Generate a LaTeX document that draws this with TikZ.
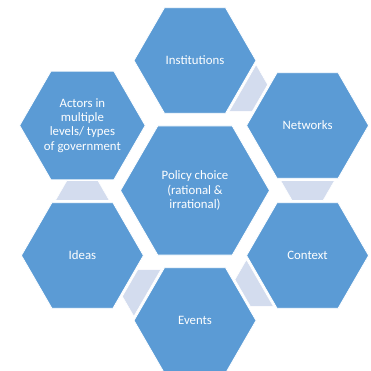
\documentclass[tikz,border=0pt]{standalone}
\usepackage{fontspec}
\setmainfont{Carlito}
\usetikzlibrary{shapes.geometric,calc}
\definecolor{hexblue}{HTML}{5B9BD5}
\definecolor{linkblue}{HTML}{D3DCEE}
\begin{document}
\begin{tikzpicture}[x=1pt,y=1pt,
  hexbox/.style={regular polygon, regular polygon sides=6, fill=hexblue, draw=white,
    line width=0.8pt, minimum size=122pt, inner sep=0pt, outer sep=0pt,
    text=white, align=center, font=\fontsize{12.8}{14.3}\selectfont},
  bighex/.style={hexbox, minimum size=149pt},
  linkshape/.style={fill=linkblue, draw=white, line width=0.6pt}]
\useasboundingbox (-195,-180.5) rectangle (176,190.5);
\node[bighex] (policy) at (0,0) {Policy choice\\(rational \&\\irrational)};
\node[hexbox] (inst) at (90:130) {Institutions};
\node[hexbox] (net) at (30:130) {Networks};
\node[hexbox] (ctx) at (-30:130) {Context};
\node[hexbox] (evt) at (-90:130) {Events};
\node[hexbox] (ideas) at (-150:130) {Ideas};
\node[hexbox] (actors) at (150:130) {Actors in\\multiple\\levels/ types\\of government};
\foreach \a/\b/\r in {inst/net/60, net/ctx/0, ctx/evt/-60, evt/ideas/-120, ideas/actors/-180} {
  \begin{scope}[shift={($(\a.center)!0.5!(\b.center)$)}, rotate=\r]
    \path[linkshape] (-27,10) -- (27,10) -- (15.45,-10) -- (-15.45,-10) -- cycle;
  \end{scope}
}
\end{tikzpicture}
\end{document}
